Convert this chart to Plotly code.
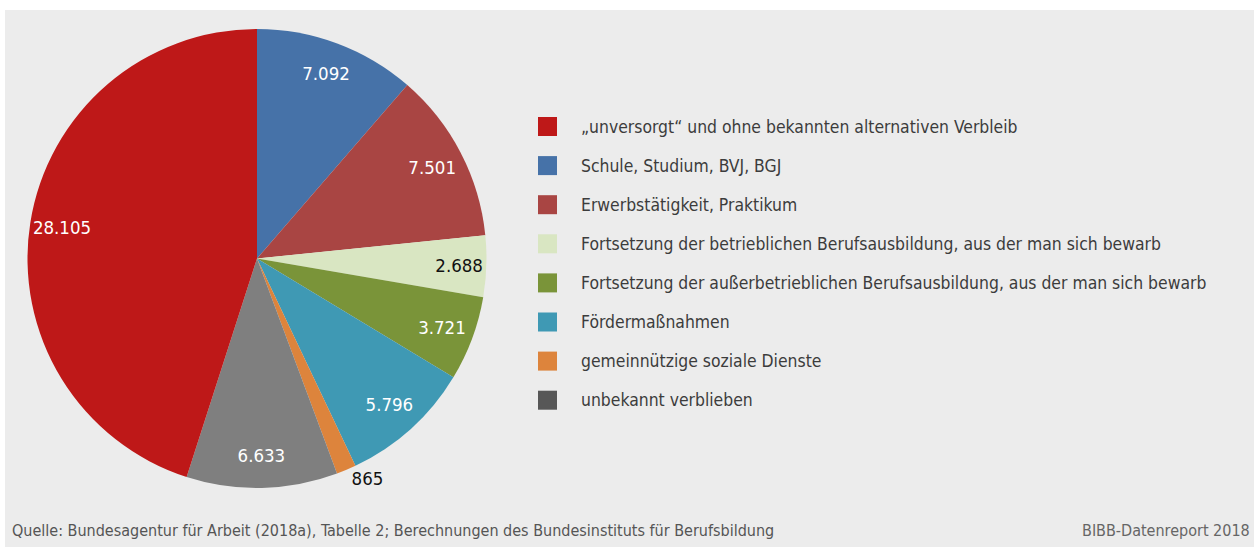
import plotly.graph_objects as go

# Data (clockwise from 12 o'clock)
categories = [
    "Schule, Studium, BVJ, BGJ",
    "Erwerbstätigkeit, Praktikum",
    "Fortsetzung der betrieblichen Berufsausbildung, aus der man sich bewarb",
    "Fortsetzung der außerbetrieblichen Berufsausbildung, aus der man sich bewarb",
    "Fördermaßnahmen",
    "gemeinnützige soziale Dienste",
    "unbekannt verblieben",
    "„unversorgt“ und ohne bekannten alternativen Verbleib",
]
values = [7092, 7501, 2688, 3721, 5796, 865, 6633, 28105]
labels_text = ["7.092", "7.501", "2.688", "3.721", "5.796", "865", "6.633", "28.105"]
slice_colors = ["#4672a8", "#a94543", "#d9e6c2", "#7a9439", "#3f99b4", "#dd843c", "#7f7f7f", "#be1818"]
text_colors = ["white", "white", "#111111", "white", "white", "#111111", "white", "white"]
text_positions = ["inside", "inside", "inside", "inside", "inside", "outside", "inside", "inside"]

# Legend order and colours as in the reference
legend_labels = [
    "„unversorgt“ und ohne bekannten alternativen Verbleib",
    "Schule, Studium, BVJ, BGJ",
    "Erwerbstätigkeit, Praktikum",
    "Fortsetzung der betrieblichen Berufsausbildung, aus der man sich bewarb",
    "Fortsetzung der außerbetrieblichen Berufsausbildung, aus der man sich bewarb",
    "Fördermaßnahmen",
    "gemeinnützige soziale Dienste",
    "unbekannt verblieben",
]
legend_colors = ["#be1818", "#4672a8", "#a94543", "#d9e6c2", "#7a9439", "#3f99b4", "#dd843c", "#575757"]

source_text = "Quelle: Bundesagentur für Arbeit (2018a), Tabelle 2; Berechnungen des Bundesinstituts für Berufsbildung"
brand_text = "BIBB-Datenreport 2018"

W, H = 1254, 547
FONT = "DejaVu Sans Condensed, Liberation Sans Narrow, sans-serif"
pie_domain = dict(x=[27 / W, 487 / W], y=[(H - 488) / H, (H - 29) / H])

fig = go.Figure()
# coloured slices
fig.add_trace(go.Pie(
    labels=categories,
    values=values,
    textinfo="none",
    sort=False,
    direction="clockwise",
    rotation=0,
    marker=dict(colors=slice_colors, line=dict(width=0)),
    showlegend=False,
    hoverinfo="label+value",
    domain=pie_domain,
))
# transparent ring carrying the value labels (places them near the rim)
fig.add_trace(go.Pie(
    labels=categories,
    values=values,
    text=labels_text,
    textinfo="text",
    sort=False,
    direction="clockwise",
    rotation=0,
    hole=0.72,
    marker=dict(colors=["rgba(0,0,0,0)"] * len(values), line=dict(width=0)),
    textposition=text_positions,
    insidetextorientation="horizontal",
    textfont=dict(family=FONT, size=18.5, color=text_colors),
    outsidetextfont=dict(family=FONT, size=18.5, color="#111111"),
    showlegend=False,
    hoverinfo="skip",
    domain=pie_domain,
))

shapes = [dict(type="rect", xref="paper", yref="paper", x0=5 / W, x1=1, y0=0, y1=(H - 10) / H,
               fillcolor="#ececec", line=dict(width=0), layer="below")]
annotations = []
row0, step = 126.5, 39.1
for i, (lab, col) in enumerate(zip(legend_labels, legend_colors)):
    yc = row0 + i * step
    shapes.append(dict(type="rect", xref="paper", yref="paper",
                       x0=538 / W, x1=557 / W, y0=(H - yc - 9.5) / H, y1=(H - yc + 9.5) / H,
                       fillcolor=col, line=dict(width=0)))
    annotations.append(dict(text=lab, xref="paper", yref="paper", x=579 / W, y=(H - yc) / H,
                            xanchor="left", yanchor="middle", showarrow=False,
                            font=dict(family=FONT, size=17.4, color="#3c3c3c")))

annotations.append(dict(text=source_text, xref="paper", yref="paper", x=10 / W, y=(H - 530) / H,
                        xanchor="left", yanchor="middle", showarrow=False,
                        font=dict(family=FONT, size=16, color="#555555")))
annotations.append(dict(text=brand_text, xref="paper", yref="paper", x=1252 / W, y=(H - 530) / H,
                        xanchor="right", yanchor="middle", showarrow=False,
                        font=dict(family=FONT, size=16, color="#666666")))

fig.update_layout(
    width=W, height=H,
    margin=dict(l=0, r=0, t=0, b=0),
    paper_bgcolor="white",
    plot_bgcolor="white",
    shapes=shapes,
    annotations=annotations,
    font=dict(family=FONT),
)

fig.write_html("out.html", config={"displayModeBar": False},
               post_script="document.body.style.margin='0';")
